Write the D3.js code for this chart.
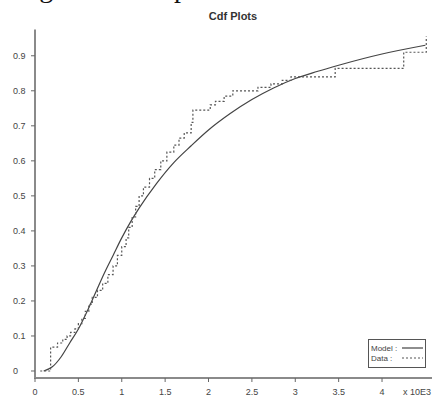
<!DOCTYPE html>
<html>
<head>
<meta charset="utf-8">
<script src="https://cdn.jsdelivr.net/npm/d3@7"></script>
<style>
  body { margin: 0; background: #fff; }
  svg { display: block; font-family: "Liberation Sans", Arial, sans-serif; }
</style>
</head>
<body>
<div class="cdf-plot"></div>
<script>
// tick labels
const xTicks = [0, 0.5, 1, 1.5, 2, 2.5, 3, 3.5, 4];
const yTicks = [0, 0.1, 0.2, 0.3, 0.4, 0.5, 0.6, 0.7, 0.8, 0.9];

// fitted model cdf (x in thousands, F)
const modelX = [0.1, 0.2, 0.3, 0.4, 0.5, 0.6, 0.7, 0.8, 0.9, 1.0, 1.1, 1.2, 1.4, 1.6, 1.8, 2.0, 2.25, 2.5, 2.75, 3.0, 3.25, 3.5, 4.0, 4.5];
const modelF = [0, 0.012, 0.04, 0.08, 0.12, 0.17, 0.225, 0.28, 0.33, 0.38, 0.425, 0.465, 0.535, 0.595, 0.643, 0.688, 0.735, 0.775, 0.808, 0.835, 0.855, 0.873, 0.905, 0.93];

// empirical cdf steps
const dataX = [0.06, 0.18, 0.26, 0.32, 0.37, 0.41, 0.46, 0.5, 0.54, 0.58, 0.62, 0.66, 0.72, 0.78, 0.84, 0.9, 0.95, 1.0, 1.05, 1.08, 1.12, 1.16, 1.2, 1.25, 1.32, 1.38, 1.45, 1.52, 1.6, 1.66, 1.72, 1.8, 1.82, 2.02, 2.08, 2.18, 2.28, 2.57, 2.72, 2.85, 2.95, 3.46, 4.25, 4.51, 4.51];
const dataF = [0, 0.068, 0.08, 0.09, 0.1, 0.11, 0.12, 0.135, 0.15, 0.17, 0.19, 0.21, 0.23, 0.25, 0.275, 0.3, 0.33, 0.355, 0.38, 0.41, 0.44, 0.47, 0.5, 0.525, 0.55, 0.575, 0.6, 0.625, 0.645, 0.665, 0.68, 0.71, 0.745, 0.76, 0.77, 0.785, 0.8, 0.81, 0.82, 0.83, 0.84, 0.864, 0.91, 0.955, 0.955];

const width = 440;
const height = 403;

const svg = d3.select('.cdf-plot')
    .append('svg')
    .attr('width', width)
    .attr('height', height);

// caption above, mostly cut off by the page edge
svg.append('text')
    .attr('x', 16)
    .attr('y', -3)
    .attr('font-family', '"Liberation Serif", serif')
    .attr('font-size', 28)
    .attr('fill', '#111')
    .text('Figure 2: Cdf plot');

const x = d3.scaleLinear().domain([0, 4.576]).range([35, 432]);
const y = d3.scaleLinear().domain([-0.02, 0.975]).range([378, 29.5]);

svg.append('text')
    .attr('x', 233)
    .attr('y', 20)
    .attr('text-anchor', 'middle')
    .attr('font-size', 11)
    .attr('font-weight', 'bold')
    .attr('fill', '#333')
    .text('Cdf Plots');

// axes
const axisColor = '#8a8a8a';
svg.append('line')
    .attr('x1', x(0)).attr('x2', x(0))
    .attr('y1', y(0.975)).attr('y2', y(-0.02))
    .attr('stroke', axisColor).attr('stroke-width', 2);
svg.append('line')
    .attr('x1', x(0) - 1).attr('x2', x(4.576))
    .attr('y1', y(-0.02)).attr('y2', y(-0.02))
    .attr('stroke', axisColor).attr('stroke-width', 2);

svg.selectAll('.ytick')
    .data(yTicks)
    .enter()
    .append('line')
    .attr('x1', x(0) - 4).attr('x2', x(0))
    .attr('y1', d => y(d)).attr('y2', d => y(d))
    .attr('stroke', '#666').attr('stroke-width', 1);

svg.selectAll('.ylab')
    .data(yTicks)
    .enter()
    .append('text')
    .attr('x', 13)
    .attr('y', d => y(d) + 3)
    .attr('font-size', 9)
    .attr('fill', '#444')
    .text(d => d3.format('~g')(d));

svg.selectAll('.xtick')
    .data(xTicks)
    .enter()
    .append('line')
    .attr('x1', d => x(d)).attr('x2', d => x(d))
    .attr('y1', y(-0.02)).attr('y2', y(-0.02) + 4)
    .attr('stroke', '#666').attr('stroke-width', 1);

svg.selectAll('.xlab')
    .data(xTicks)
    .enter()
    .append('text')
    .attr('x', d => x(d))
    .attr('y', 395)
    .attr('text-anchor', 'middle')
    .attr('font-size', 9)
    .attr('fill', '#444')
    .text(d => d3.format('~g')(d));

svg.append('text')
    .attr('x', 431)
    .attr('y', 395)
    .attr('text-anchor', 'end')
    .attr('font-size', 9)
    .attr('fill', '#444')
    .text('x 10E3');

// model curve
const model = modelX.map((d, i) => [d, modelF[i]]);
svg.append('path')
    .datum(model)
    .attr('fill', 'none')
    .attr('stroke', '#444')
    .attr('stroke-width', 1.2)
    .attr('d', d3.line().x(d => x(d[0])).y(d => y(d[1])).curve(d3.curveMonotoneX));

// data steps
const data = dataX.map((d, i) => [d, dataF[i]]);
svg.append('path')
    .datum(data)
    .attr('fill', 'none')
    .attr('stroke', '#555')
    .attr('stroke-width', 1.2)
    .attr('stroke-dasharray', '2,2')
    .attr('d', d3.line().x(d => x(d[0])).y(d => y(d[1])).curve(d3.curveStepAfter));

// legend
const legend = svg.append('g');
legend.append('rect')
    .attr('x', 368.5).attr('y', 339.5)
    .attr('width', 57).attr('height', 28)
    .attr('fill', '#fff')
    .attr('stroke', '#555').attr('stroke-width', 1);
legend.append('text')
    .attr('x', 371).attr('y', 351)
    .attr('font-size', 8).attr('fill', '#444')
    .text('Model :');
legend.append('line')
    .attr('x1', 402).attr('x2', 423).attr('y1', 348).attr('y2', 348)
    .attr('stroke', '#444').attr('stroke-width', 1.2);
legend.append('text')
    .attr('x', 371).attr('y', 361)
    .attr('font-size', 8).attr('fill', '#444')
    .text('Data :');
legend.append('line')
    .attr('x1', 402).attr('x2', 423).attr('y1', 358).attr('y2', 358)
    .attr('stroke', '#555').attr('stroke-width', 1.2)
    .attr('stroke-dasharray', '2,2');
</script>
</body>
</html>
